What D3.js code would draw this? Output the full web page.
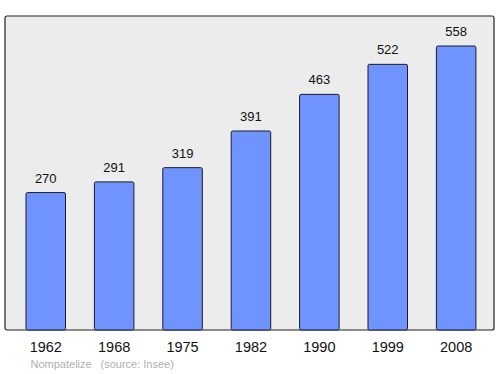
<!DOCTYPE html>
<html><head><meta charset="utf-8">
<script src="https://cdn.jsdelivr.net/npm/d3@7"></script>
<style>body{margin:0;background:#fff}</style>
</head><body>
<svg id="c" width="500" height="374"></svg>
<script>
const years = ["1962","1968","1975","1982","1990","1999","2008"];
const population = [270,291,319,391,463,522,558];
const footerLabels = ["Nompatelize", "(source: Insee)"];

const svg = d3.select("#c");
const frame = {x0:5, y0:16, x1:494, y1:330};
const step = 68.4, pIn = 0.4225, pOut = 0.3;
const r0 = 26 - pOut*step;
const x = d3.scaleBand().domain(years).range([r0, r0 + step*(years.length - pIn + 2*pOut)]).paddingInner(pIn).paddingOuter(pOut);
const y = d3.scaleLinear().domain([0, 617]).range([frame.y1, frame.y0]);

svg.append("rect").attr("x",frame.x0).attr("y",frame.y0).attr("width",frame.x1-frame.x0).attr("height",frame.y1-frame.y0)
  .attr("rx",2).attr("fill","#ececec").attr("stroke","#222").attr("stroke-width",1.2);

svg.selectAll("rect.bar").data(years).enter().append("rect").attr("class","bar")
  .attr("x",d=>x(d)).attr("width",x.bandwidth())
  .attr("y",(d,i)=>y(population[i])).attr("height",(d,i)=>frame.y1-y(population[i]))
  .attr("rx",1.5).attr("fill","#7094ff").attr("stroke","#1a1a2a").attr("stroke-width",1);

svg.selectAll("text.val").data(years).enter().append("text").attr("class","val")
  .attr("x",d=>x(d)+x.bandwidth()/2).attr("y",(d,i)=>y(population[i])-10)
  .attr("text-anchor","middle").attr("font-family","Liberation Sans, Arial, sans-serif").attr("font-size",13).attr("fill","#111")
  .text((d,i)=>population[i]);

const axis = d3.axisBottom(x).tickSize(0).tickPadding(0);
const g = svg.append("g").attr("transform",`translate(0,${frame.y1})`).call(axis);
g.select(".domain").remove();
g.selectAll("text").attr("font-family","Liberation Sans, Arial, sans-serif").attr("font-size",14.5).attr("fill","#111").attr("dy",null).attr("y",22);

svg.append("text").attr("x",30.5).attr("y",368).attr("font-family","Liberation Sans, Arial, sans-serif").attr("font-size",11).attr("fill","#b0b0b0").text(footerLabels[0]);
svg.append("text").attr("x",100.5).attr("y",368).attr("font-family","Liberation Sans, Arial, sans-serif").attr("font-size",11).attr("fill","#b0b0b0").text(footerLabels[1]);
</script>
</body></html>
